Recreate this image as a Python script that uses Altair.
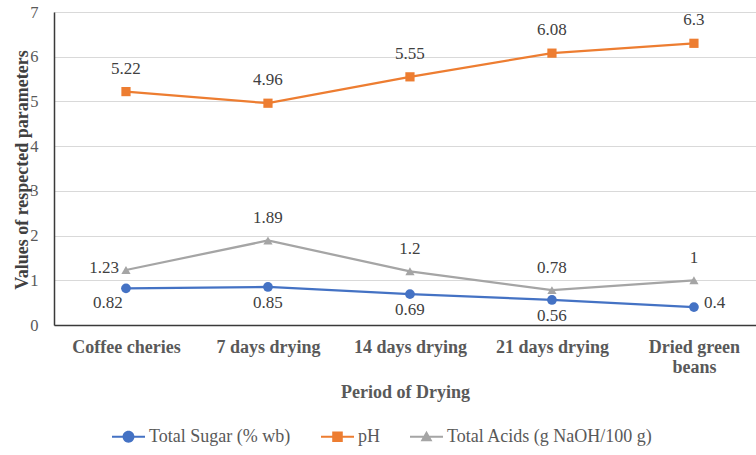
import altair as alt
import pandas as pd

categories = ["Coffee cheries", "7 days drying", "14 days drying", "21 days drying", "Dried green beans"]
series_names = ["Total Sugar (% wb)", "pH", "Total Acids (g NaOH/100 g)"]
total_sugar = [0.82, 0.85, 0.69, 0.56, 0.4]
ph_values = [5.22, 4.96, 5.55, 6.08, 6.3]
total_acids = [1.23, 1.89, 1.2, 0.78, 1.0]
y_ticks = [0, 1, 2, 3, 4, 5, 6, 7]

colors = ["#4472C4", "#ED7D31", "#A5A5A5"]
shapes = ["circle", "square", "triangle-up"]
sizes = [95, 85, 85]

rows = []
for name, vals in zip(series_names, [total_sugar, ph_values, total_acids]):
    for c, v in zip(categories, vals):
        rows.append({"cat": c, "series": name, "value": v})
df = pd.DataFrame(rows)

SERIF = "Liberation Serif"
W, H = 702, 313

x_enc = alt.X(
    "cat:N", sort=categories, title="Period of Drying",
    scale=alt.Scale(type="point", padding=0.472, align=0.537),
    axis=alt.Axis(
        labelFont=SERIF, labelFontSize=18, labelFontWeight="bold", labelColor="#595959",
        labelPadding=13, labelLineHeight=20, ticks=False, grid=False, labelAngle=0,
        labelLimit=0,
        domainColor="#3a3a3a", domainWidth=1.5,
        labelExpr="datum.label == 'Dried green beans' ? ['Dried green', 'beans'] : datum.label",
        titleFont=SERIF, titleFontSize=18, titleFontWeight="bold", titleColor="#595959",
        titleY=67, titleBaseline="middle",
    ),
)
y_enc = alt.Y(
    "value:Q", title="Values of respected parameters",
    scale=alt.Scale(domain=[0, 7], nice=False),
    axis=alt.Axis(
        values=y_ticks, labelFont=SERIF, labelFontSize=16.5, labelColor="#595959",
        labelPadding=16, ticks=False, grid=True, gridColor="#d9d9d9", gridWidth=1,
        domainColor="#3a3a3a", domainWidth=1.5,
        titleFont=SERIF, titleFontSize=18, titleFontWeight="bold", titleColor="#404040",
        titleX=-32, titleY=H / 2 + 1, titleBaseline="middle", titleAlign="center",
        titleLimit=0,
    ),
)

base = alt.Chart(df).encode(x=x_enc, y=y_enc)

layers = []
for name, col, shp, sz in zip(series_names, colors, shapes, sizes):
    sub = base.transform_filter(alt.datum.series == name)
    layers.append(sub.mark_line(color=col, strokeWidth=2.25))
    layers.append(sub.mark_point(filled=True, shape=shp, size=sz, color=col, opacity=1))

txt = dict(font=SERIF, fontSize=17, color="#404040", baseline="middle")

def labels(name, cond, **kw):
    opts = dict(txt)
    opts.update(kw)
    return (base.transform_filter(alt.datum.series == name)
            .transform_filter(cond)
            .mark_text(**opts).encode(text=alt.Text("value:Q")))

first, last = categories[0], categories[-1]
layers.append(labels(series_names[1], "true", dy=-23))
layers.append(labels(series_names[2], alt.datum.cat != first, dy=-22))
layers.append(labels(series_names[2], alt.datum.cat == first, align="right", dx=-7, dy=-2))
layers.append(labels(series_names[0], (alt.datum.cat != first) & (alt.datum.cat != last), dy=16))
layers.append(labels(series_names[0], alt.datum.cat == first, dx=-18, dy=15))
layers.append(labels(series_names[0], alt.datum.cat == last, align="left", dx=10, dy=-4))

# legend symbols: line segment with marker
r = 0.068
line_path = f"M-1,-{r} L1,-{r} L1,{r} L-1,{r} Z"
legend_paths = [
    line_path + " M-0.36,0 A0.36,0.36 0 1,1 0.36,0 A0.36,0.36 0 1,1 -0.36,0 Z",
    line_path + " M-0.32,-0.32 L0.32,-0.32 L0.32,0.32 L-0.32,0.32 Z",
    line_path + " M0,-0.36 L0.36,0.28 L-0.36,0.28 Z",
]
leg = alt.Legend(
    title=None, orient="none", direction="horizontal", legendX=58, legendY=408,
    labelFont=SERIF, labelFontSize=18, labelColor="#595959", labelOffset=4, labelLimit=0,
    symbolSize=1089, symbolStrokeWidth=0, symbolOpacity=1, columnPadding=30,
)
legend_layer = (alt.Chart(df).transform_filter("false")
                .mark_point(filled=True, size=1089, strokeWidth=0)
                .encode(x=x_enc, y=y_enc,
                        fill=alt.Fill("series:N", scale=alt.Scale(domain=series_names, range=colors), legend=leg),
                        shape=alt.Shape("series:N", scale=alt.Scale(domain=series_names, range=legend_paths), legend=leg)))
layers.append(legend_layer)

chart = alt.layer(*layers).properties(
    width=W, height=H,
    autosize=alt.AutoSizeParams(type="none"),
    padding={"left": 54, "top": 12, "right": 0, "bottom": 130},
).configure_view(stroke=None).configure(background="white")

chart.save("out.html", embed_options={"renderer": "svg", "actions": False})
